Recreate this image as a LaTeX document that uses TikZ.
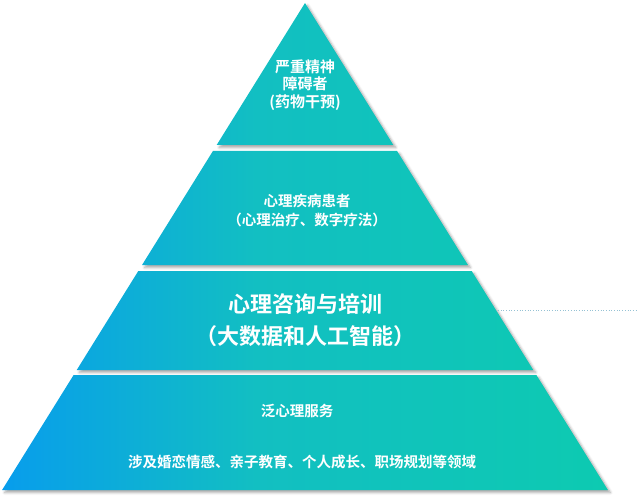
\documentclass[tikz,border=0pt]{standalone}
\usepackage{fontspec}
\usepackage{tikz}
\usetikzlibrary{calc,shadows.blur}
\newfontfamily\cjk{Noto Sans CJK SC Bold}
\definecolor{pyrblue}{HTML}{089DEC}
\definecolor{pyrmid}{HTML}{12BFC2}
\definecolor{pyrteal}{HTML}{0DCAB1}
\definecolor{dotline}{HTML}{96C2D4}
\pgfdeclarehorizontalshading{pyramid}{100bp}{color(0bp)=(pyrblue); color(25bp)=(pyrblue); color(46bp)=(pyrmid); color(75bp)=(pyrteal); color(100bp)=(pyrteal)}

\begin{document}
\begin{tikzpicture}[x=1pt,y=-1pt,
  layer/.style={shading=pyramid,
                blur shadow={shadow xshift=2.5pt,shadow yshift=-2.5pt,shadow opacity=35,shadow blur radius=2.5pt}},
  tag/.style={text=white,align=center,inner sep=0pt,font=\cjk\fontsize{14.5}{19}\selectfont},
  bigtag/.style={tag,font=\cjk\fontsize{22}{32}\selectfont},
  guide/.style={draw=dotline,dotted,line width=0.7pt}
]
\useasboundingbox (0,0) rectangle (637,500);

% four layers, one shading across all of them
\shade[layer] \foreach \ya/\yb in {3/145,151/265,271/370,375/490}{
  ({305-0.622*(\ya-3)},\ya) -- ({305+0.622*(\ya-3)},\ya) --
  ({305+0.622*(\yb-3)},\yb) -- ({305-0.622*(\yb-3)},\yb) -- cycle};

\coordinate (rimpt) at ({307+0.622*307},310);
\coordinate (rimend) at (637,310);
\draw[guide] (rimpt) -- (rimend);

\node[tag,font=\cjk\fontsize{15}{17.5}\selectfont] (severe) at (305,85) {严重精神\\障碍者\\(药物干预)};
\node[tag] (illness) at (307,211) {心理疾病患者\\（心理治疗、数字疗法）};
\node[bigtag] (counsel) at (305,320) {心理咨询与培训\\（大数据和人工智能）};
\node[tag] (general) at (297,411) {泛心理服务};
\node[tag] (domains) at (302,462) {涉及婚恋情感、亲子教育、个人成长、职场规划等领域};
\end{tikzpicture}
\end{document}
